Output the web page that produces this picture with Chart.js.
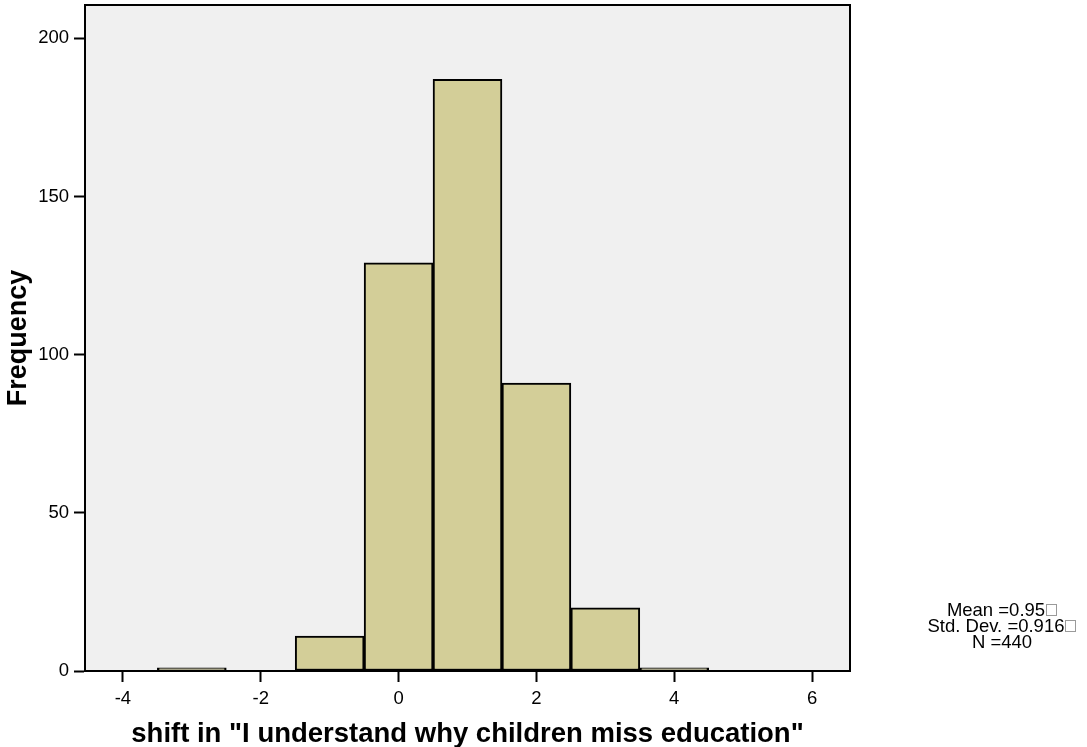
<!DOCTYPE html>
<html>
<head>
<meta charset="utf-8">
<script src="https://cdn.jsdelivr.net/npm/chart.js@4.4.1/dist/chart.umd.min.js"></script>
<style>
  html, body { margin: 0; padding: 0; background: #ffffff; }
  #wrap { width: 1087px; height: 747px; position: relative; }
</style>
</head>
<body>
<div id="wrap"><canvas id="hist" width="1087" height="747"></canvas></div>
<script>
// Histogram bins (centre of each unit-wide bin) and frequencies
const binCenters = [-3, -2, -1, 0, 1, 2, 3, 4];
const frequencies = [1, 0, 11, 129, 187, 91, 20, 1];
const xTicks = [-4, -2, 0, 2, 4, 6];
const yTicks = [0, 50, 100, 150, 200];
const xTitle = 'shift in "I understand why children miss education"';
const yTitle = 'Frequency';
const statLines = [
  { text: 'Mean =0.95', box: true },
  { text: 'Std. Dev. =0.916', box: true },
  { text: 'N =440', box: false }
];

const FONT = '"Liberation Sans", Arial, Helvetica, sans-serif';

// Grey plot background and black frame around the chart area
const framePlugin = {
  id: 'frame',
  beforeDraw(chart) {
    const { ctx, chartArea: a } = chart;
    ctx.save();
    ctx.fillStyle = '#f0f0f0';
    ctx.fillRect(a.left, a.top, a.right - a.left, a.bottom - a.top);
    ctx.restore();
  },
  afterDatasetsDraw(chart) {
    const { ctx, chartArea: a } = chart;
    ctx.save();
    ctx.strokeStyle = '#000';
    ctx.lineWidth = 2;
    ctx.strokeRect(a.left, a.top, a.right - a.left, a.bottom - a.top);
    ctx.restore();
  }
};

// Summary statistics block to the right of the plot
const statsPlugin = {
  id: 'stats',
  afterDraw(chart) {
    const { ctx } = chart;
    ctx.save();
    ctx.font = '18.5px ' + FONT;
    ctx.textBaseline = 'alphabetic';
    ctx.textAlign = 'left';
    const cx = 1002, base0 = 615.5, lh = 16;
    statLines.forEach((ln, i) => {
      const y = base0 + i * lh;
      const w = ctx.measureText(ln.text).width;
      const boxW = ln.box ? 12 : 0;
      const left = cx - (w + boxW) / 2;
      ctx.fillStyle = '#000';
      ctx.fillText(ln.text, left, y);
      if (ln.box) {
        ctx.strokeStyle = '#9a9a9a';
        ctx.lineWidth = 1;
        ctx.strokeRect(Math.round(left + w + 1) + 0.5, Math.round(y - 12) + 0.5, 10, 11);
      }
    });
    ctx.restore();
  }
};

new Chart(document.getElementById('hist'), {
  type: 'bar',
  data: {
    datasets: [{
      data: binCenters.map((c, i) => ({ x: c, y: frequencies[i] })),
      backgroundColor: '#d3ce98',
      borderColor: '#000',
      borderWidth: ctx => (ctx.raw && ctx.raw.y > 0 ? 2 : 0),
      borderSkipped: false,
      barPercentage: 1,
      categoryPercentage: 1
    }]
  },
  options: {
    responsive: false,
    animation: false,
    events: [],
    layout: { padding: { top: 5, right: 237, left: 0, bottom: 0 } },
    plugins: { legend: { display: false }, tooltip: { enabled: false } },
    scales: {
      x: {
        type: 'linear',
        offset: false,
        min: -4.55,
        max: 6.55,
        afterBuildTicks: s => { s.ticks = xTicks.map(v => ({ value: v })); },
        afterFit: s => { s.height = 76; s.paddingLeft = 0; s.paddingRight = 0; },
        grid: { offset: false, drawOnChartArea: false, tickLength: 11, tickWidth: 2, tickColor: '#000' },
        border: { display: true, color: '#000', width: 2 },
        ticks: { color: '#000', font: { family: FONT, size: 18.5 }, padding: 6, maxRotation: 0 },
        title: {
          display: true, text: xTitle, color: '#000',
          font: { family: FONT, size: 27.5, weight: 'bold' },
          padding: { top: 0, bottom: -4 }
        }
      },
      y: {
        min: 0,
        max: 210.5,
        afterBuildTicks: s => { s.ticks = yTicks.map(v => ({ value: v })); },
        afterFit: s => { s.width = 85; s.paddingTop = 0; s.paddingBottom = 0; },
        grid: { drawOnChartArea: false, tickLength: 11, tickWidth: 2, tickColor: '#000' },
        border: { display: true, color: '#000', width: 2 },
        ticks: { color: '#000', font: { family: FONT, size: 18.5 }, padding: 5 },
        title: {
          display: true, text: yTitle, color: '#000',
          font: { family: FONT, size: 27, weight: 'bold' },
          padding: { top: 2, bottom: 0 }
        }
      }
    }
  },
  plugins: [framePlugin, statsPlugin]
});
</script>
</body>
</html>
